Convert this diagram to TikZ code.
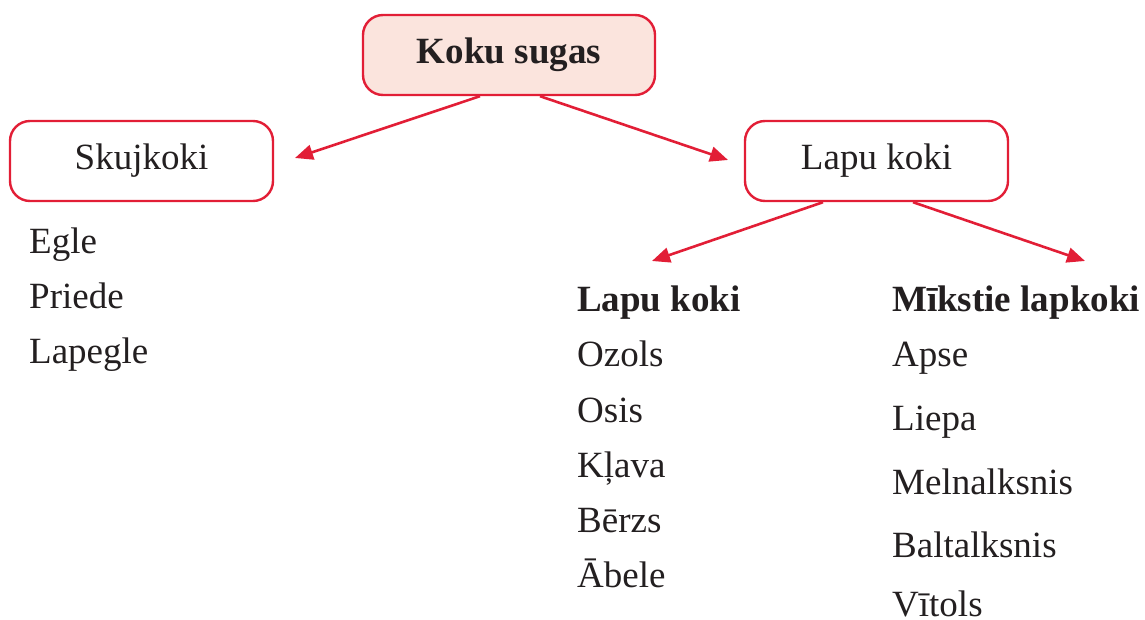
\documentclass[tikz,border=0pt]{standalone}
\usepackage{fontspec}
\setmainfont{Liberation Serif}
\usetikzlibrary{arrows.meta}
\definecolor{cred}{HTML}{E21E36}
\definecolor{cpink}{HTML}{FBE4DD}
\definecolor{ctext}{HTML}{231F20}
\tikzset{
  box/.style={draw=cred, line width=2.4pt, rounded corners=20pt, inner sep=0pt,
    minimum height=80pt, text=ctext, font=\fontsize{37}{42}\selectfont},
  conn/.style={draw=cred, line width=2.6pt, -{Triangle[length=18pt,width=15pt]}},
  item/.style={anchor=base west, inner sep=0pt, text=ctext, font=\fontsize{37}{42}\selectfont},
  head/.style={item, font=\fontsize{37}{42}\selectfont\bfseries}
}
\begin{document}
\begin{tikzpicture}[x=1pt,y=1pt]
\useasboundingbox (0,0) rectangle (1145,619);
% boxes (y measured from bottom: y = 619 - py)
\node[box, fill=cpink, minimum width=292pt, font=\fontsize{37}{42}\selectfont\bfseries] (top) at (509,564) {Koku sugas};
\node[box, minimum width=263pt] (skuj) at (141.5,458) {Skujkoki};
\node[box, minimum width=263pt] (lapu) at (876.5,458) {Lapu koki};
% arrow end coordinates
\coordinate (e1) at (295,461);
\coordinate (e2) at (728,459);
\coordinate (e3) at (652,358);
\coordinate (e4) at (1085,358);
\draw[conn] (top.south -| 480,0) -- (e1);
\draw[conn] (top.south -| 540,0) -- (e2);
\draw[conn] (lapu.south -| 823,0) -- (e3);
\draw[conn] (lapu.south -| 913,0) -- (e4);
% left list
\node[item] (egle) at (29,365) {Egle};
\node[item] (priede) at (29,310) {Priede};
\node[item] (lapegle) at (29,255) {Lapegle};
% middle list
\node[head] (h1) at (577,307) {Lapu koki};
\node[item] (ozols) at (577,252) {Ozols};
\node[item] (osis) at (577,197) {Osis};
\node[item] (klava) at (577,142) {Kļava};
\node[item] (berzs) at (577,87) {Bērzs};
\node[item] (abele) at (577,32) {Ābele};
% right list
\node[head] (h2) at (892,307) {Mīkstie lapkoki};
\node[item] (apse) at (892,252) {Apse};
\node[item] (liepa) at (892,189) {Liepa};
\node[item] (meln) at (892,125) {Melnalksnis};
\node[item] (balt) at (892,62) {Baltalksnis};
\node[item] (vitols) at (892,3) {Vītols};
\end{tikzpicture}
\end{document}
